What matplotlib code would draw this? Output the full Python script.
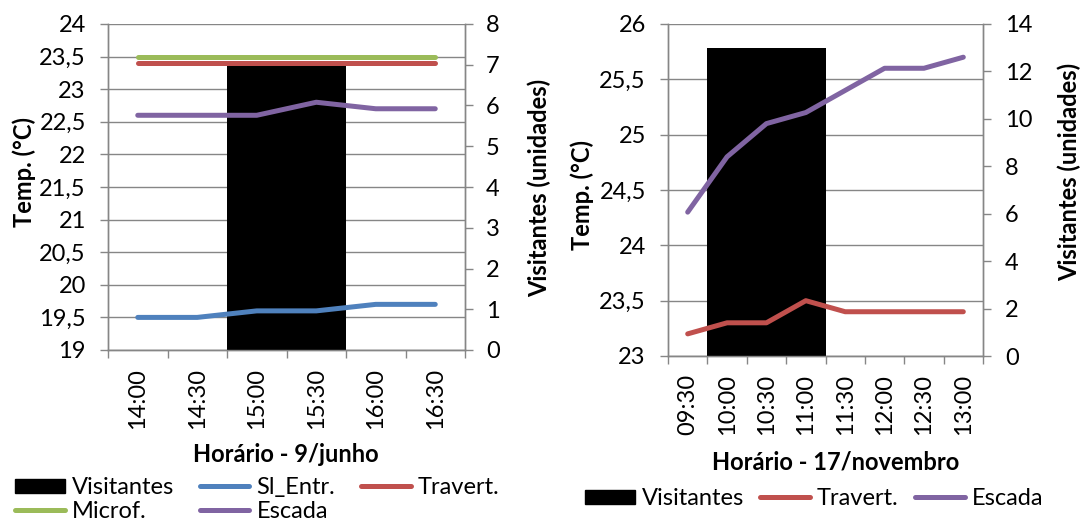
import matplotlib
matplotlib.use('Agg')
import matplotlib.pyplot as plt
from matplotlib.ticker import FuncFormatter, MultipleLocator, FixedLocator
from matplotlib.lines import Line2D
from matplotlib.patches import Patch
import numpy as np

plt.rcParams['font.family'] = ['Lato', 'DejaVu Sans']

# ---- data ----
times_jun = ['14:00', '14:30', '15:00', '15:30', '16:00', '16:30']
visit_jun = [0, 0, 7, 7, 0, 0]
sl_entr_jun = [19.5, 19.5, 19.6, 19.6, 19.7, 19.7]
travert_jun = [23.4, 23.4, 23.4, 23.4, 23.4, 23.4]
microf_jun = [23.5, 23.5, 23.5, 23.5, 23.5, 23.5]
escada_jun = [22.6, 22.6, 22.6, 22.8, 22.7, 22.7]

times_nov = ['09:30', '10:00', '10:30', '11:00', '11:30', '12:00', '12:30', '13:00']
visit_nov = [0, 13, 13, 13, 0, 0, 0, 0]
travert_nov = [23.2, 23.3, 23.3, 23.5, 23.4, 23.4, 23.4, 23.4]
escada_nov = [24.3, 24.8, 25.1, 25.2, 25.4, 25.6, 25.6, 25.7]

COL = {'Sl_Entr.': '#4F81BD', 'Travert.': '#C0504D', 'Microf.': '#9BBB59', 'Escada': '#8064A2'}
GRID = '#868686'
FS = 17
W, H = 1080, 522

fig = plt.figure(figsize=(W / 100, H / 100), dpi=100)

comma = FuncFormatter(lambda v, p: f'{v:g}'.replace('.', ','))


def px_rect(x0, y0, x1, y1):
    return [x0 / W, 1 - y1 / H, (x1 - x0) / W, (y1 - y0) / H]


def fpt(x, y):
    return (x / W, 1 - y / H)


def panel(rect, cats, visits, series, tlim, tstep, vlim, vstep, xlabel,
          lab_l, lab_r, lab_x, lpad, rpad):
    ax = fig.add_axes(rect)
    ax2 = ax.twinx()
    n = len(cats)
    x = np.arange(n)
    ax.set_xlim(-0.5, n - 0.5)
    ax.set_ylim(*tlim)
    ax.yaxis.set_major_locator(MultipleLocator(tstep))
    ax.yaxis.set_major_formatter(comma)
    ax2.yaxis.set_major_locator(MultipleLocator(vstep))
    ax.grid(axis='y', color=GRID, lw=1.0)
    ax.set_axisbelow(True)
    # bars (visitor scale)
    ax2.bar(x, visits, width=1.0, color='black', zorder=2)
    # lines (temperature scale) drawn above bars
    for name, vals in series:
        ax2.plot(x, vals, color=COL[name], lw=3.6, solid_capstyle='round',
                 transform=ax.transData, zorder=3)
    ax2.set_ylim(*vlim)
    ax2.set_xlim(-0.5, n - 0.5)
    # x ticks
    ax.xaxis.set_major_locator(FixedLocator(x))
    ax.set_xticklabels(cats, rotation=90, fontsize=FS)
    ax.xaxis.set_minor_locator(FixedLocator(np.arange(n + 1) - 0.5))
    ax.tick_params(axis='x', which='major', length=0, pad=13)
    ax.tick_params(axis='x', which='minor', length=6, width=1, color=GRID, direction='out')
    ax.tick_params(axis='y', length=6, width=1, color=GRID, labelsize=FS, pad=lpad)
    ax2.tick_params(axis='y', length=6, width=1, color=GRID, labelsize=FS, pad=rpad)
    for a in (ax, ax2):
        for s in a.spines.values():
            s.set_color(GRID)
            s.set_linewidth(1.0)
        a.spines['top'].set_visible(False)
    ax.set_xlabel(xlabel, fontsize=FS, fontweight='bold')
    ax.xaxis.set_label_coords(*lab_x, transform=fig.transFigure)
    ax.set_ylabel('Temp. (°C)', fontsize=FS, fontweight='bold')
    ax2.set_ylabel('Visitantes (unidades)', fontsize=FS, fontweight='bold')
    ax.yaxis.set_label_coords(*lab_l, transform=fig.transFigure)
    ax2.yaxis.set_label_coords(*lab_r, transform=fig.transFigure)
    return ax, ax2


# left panel
axL, axL2 = panel(px_rect(108, 24, 465, 350), times_jun, visit_jun,
                  [('Sl_Entr.', sl_entr_jun), ('Travert.', travert_jun),
                   ('Microf.', microf_jun), ('Escada', escada_jun)],
                  (19, 24), 0.5, (0, 8), 1, 'Horário - 9/junho',
                  fpt(36, 172), fpt(528, 188), fpt(286, 443), 10, 9)

# right panel
axR, axR2 = panel(px_rect(668, 24, 983, 356), times_nov, visit_nov,
                  [('Travert.', travert_nov), ('Escada', escada_nov)],
                  (23, 26), 0.5, (0, 14), 2, 'Horário - 17/novembro',
                  fpt(594, 195), fpt(1058, 172), fpt(836, 450), 10, 10)


def lh(name):
    return Line2D([], [], color=COL[name], lw=3.6, solid_capstyle='round')


vis_h = Patch(facecolor='black', edgecolor='black')

legkw = dict(frameon=False, fontsize=FS, handlelength=2.1, handleheight=0.55,
             handletextpad=0.3, borderaxespad=0, borderpad=0, loc='upper left')

legL = fig.legend([vis_h, lh('Microf.'), lh('Sl_Entr.'), lh('Escada'), lh('Travert.')],
                  ['Visitantes', 'Microf.', 'Sl_Entr.', 'Escada', 'Travert.'],
                  ncol=3, bbox_to_anchor=fpt(15, 477),
                  columnspacing=1.1, labelspacing=0.12, **legkw)

legR = fig.legend([vis_h, lh('Travert.'), lh('Escada')],
                  ['Visitantes', 'Travert.', 'Escada'],
                  ncol=3, bbox_to_anchor=fpt(585, 488),
                  columnspacing=0.7, **legkw)

fig.savefig('out.png', dpi=100)
